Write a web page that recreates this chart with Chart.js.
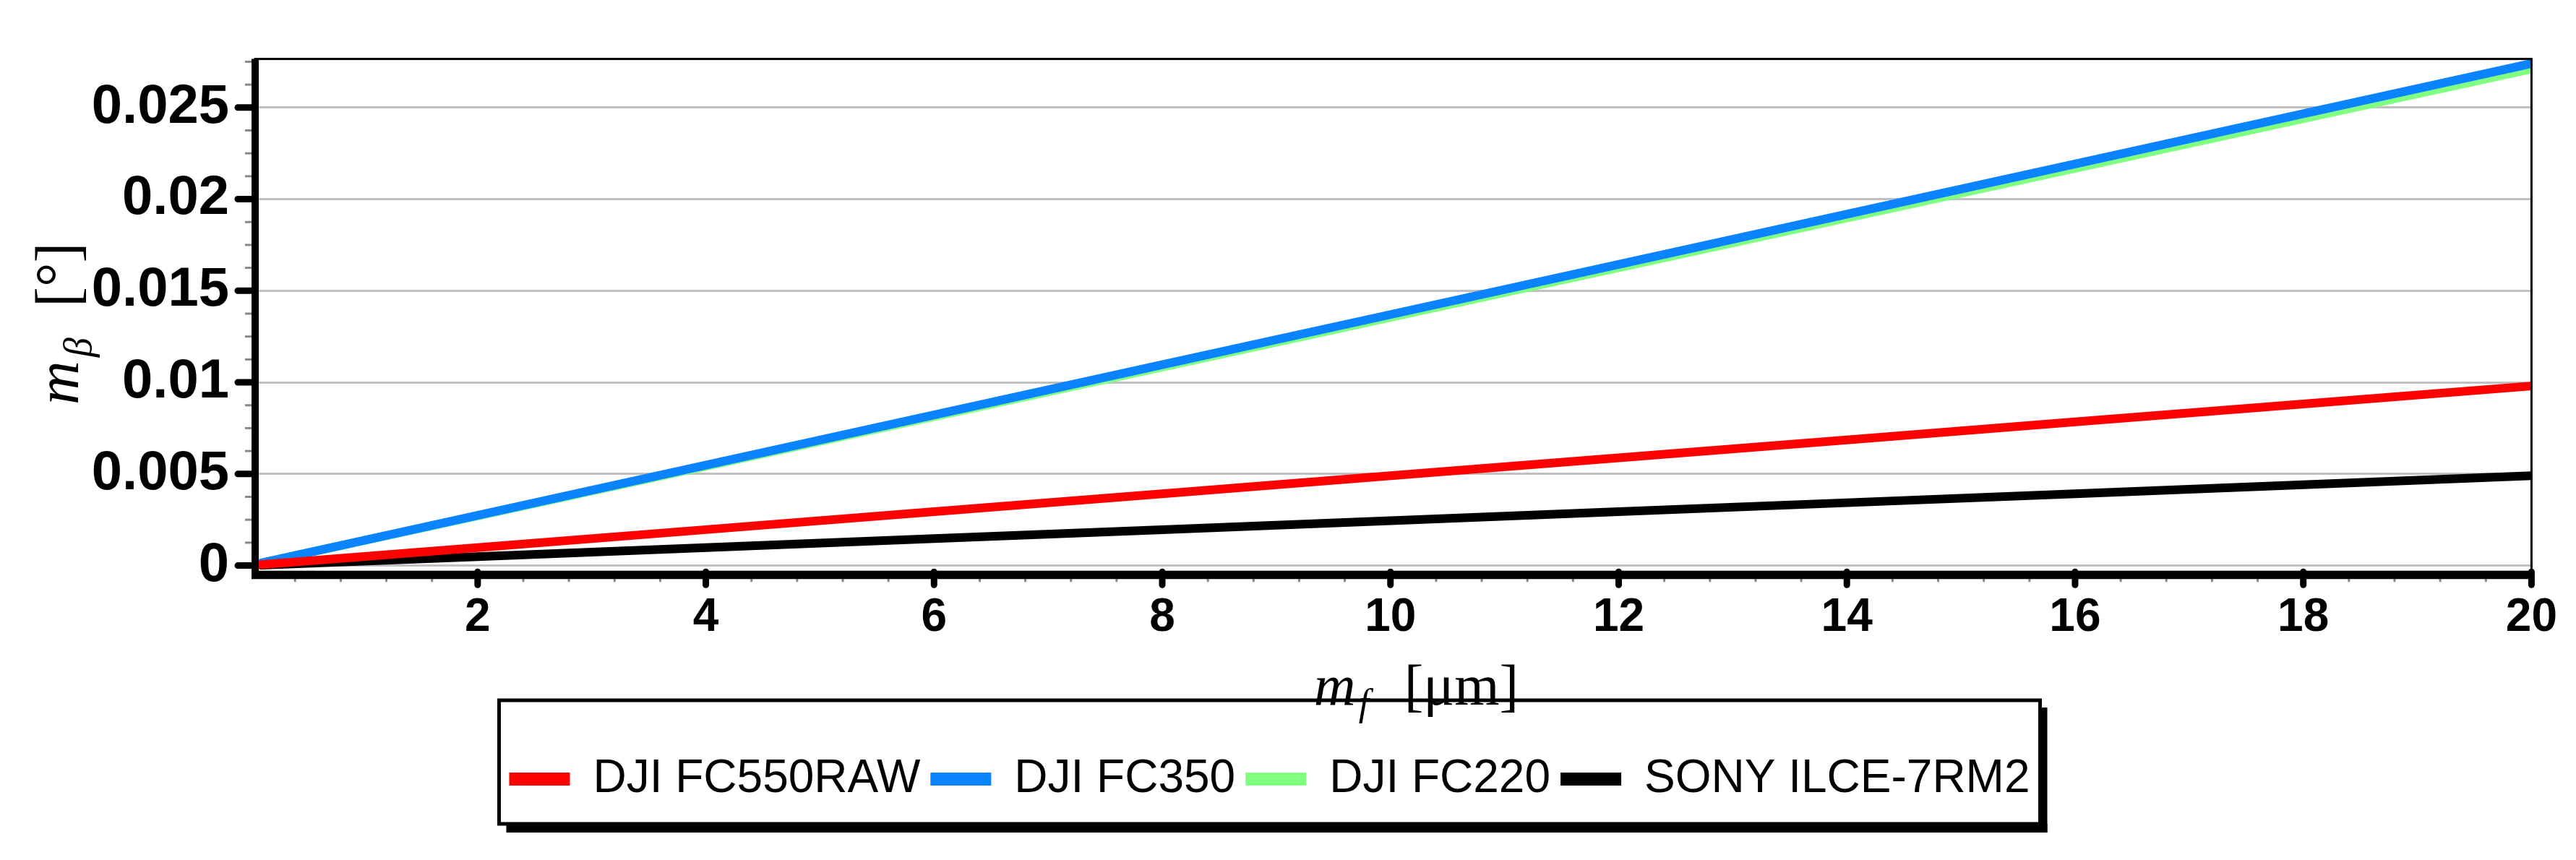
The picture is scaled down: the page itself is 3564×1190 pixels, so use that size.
<!DOCTYPE html>
<html>
<head>
<meta charset="utf-8">
<script src="https://cdn.jsdelivr.net/npm/chart.js@4"></script>
<style>
  html, body { margin: 0; padding: 0; background: #fff; }
  #wrap { width: 3564px; height: 1190px; }
</style>
</head>
<body>
<div id="wrap"><canvas id="c"></canvas></div>
<script>
// Data
const focalError = [0.1, 2, 4, 6, 8, 10, 12, 14, 16, 18, 20];
const fc550raw = [0.00005, 0.00098, 0.00196, 0.00294, 0.00392, 0.0049, 0.00588, 0.00686, 0.00784, 0.00882, 0.0098];
const fc350 = [0.000137, 0.00274, 0.00548, 0.00822, 0.01096, 0.0137, 0.01644, 0.01918, 0.02192, 0.02466, 0.0274];
const fc220 = [0.000136, 0.00271, 0.00542, 0.00813, 0.01084, 0.01355, 0.01626, 0.01897, 0.02168, 0.02439, 0.0271];
const sony = [0.000025, 0.00049, 0.00098, 0.00147, 0.00196, 0.00245, 0.00294, 0.00343, 0.00392, 0.00441, 0.0049];
const xTicks = [2, 4, 6, 8, 10, 12, 14, 16, 18, 20];
const yTicks = [0, 0.005, 0.01, 0.015, 0.02, 0.025];

const pts = arr => arr.map((v, i) => ({ x: focalError[i], y: v }));

function series(label, data, color) {
    return { label, data: pts(data), borderColor: color, backgroundColor: color,
        borderWidth: 12, pointRadius: 0, tension: 0, borderCapStyle: 'round' };
}

// frame, minor ticks, axis titles and legend box
const decor = {
    id: 'decor',
    afterDraw(chart) {
        const { ctx, chartArea: a, scales: { x, y } } = chart;
        ctx.save();
        // minor ticks
        ctx.strokeStyle = '#888'; ctx.lineWidth = 3;
        for (let v = 0.00125; v < 0.0276; v += 0.00125) {
            if (Math.abs(v / 0.005 - Math.round(v / 0.005)) < 1e-6) continue;
            const py = y.getPixelForValue(v);
            ctx.beginPath(); ctx.moveTo(a.left - 14, py); ctx.lineTo(a.left, py); ctx.stroke();
        }
        for (let v = 0.4; v < 20; v += 0.4) {
            if (Math.abs(v / 2 - Math.round(v / 2)) < 1e-6) continue;
            const px = x.getPixelForValue(v);
            ctx.beginPath(); ctx.moveTo(px, a.bottom + 4); ctx.lineTo(px, a.bottom + 14); ctx.stroke();
        }
        // major ticks
        ctx.strokeStyle = '#000'; ctx.lineWidth = 9; ctx.lineCap = 'round';
        yTicks.forEach(v => {
            const py = y.getPixelForValue(v);
            ctx.beginPath(); ctx.moveTo(a.left - 24, py); ctx.lineTo(a.left, py); ctx.stroke();
        });
        xTicks.forEach(v => {
            const px = x.getPixelForValue(v);
            ctx.beginPath(); ctx.moveTo(px, a.bottom); ctx.lineTo(px, a.bottom + 18); ctx.stroke();
        });
        ctx.lineCap = 'butt';
        // frame
        ctx.lineWidth = 3;
        ctx.strokeRect(a.left, a.top, a.right - a.left, a.bottom - a.top);
        ctx.lineWidth = 10;
        ctx.beginPath();
        ctx.moveTo(a.left, a.top); ctx.lineTo(a.left, a.bottom + 5); ctx.lineTo(a.right, a.bottom + 5);
        ctx.stroke();
        // x title
        ctx.fillStyle = '#000';
        ctx.textBaseline = 'alphabetic';
        const cx = (a.left + a.right) / 2 - 110;
        ctx.font = 'italic 80px "Liberation Serif"';
        ctx.fillText('m', cx, 975);
        ctx.font = 'italic 52px "Liberation Serif"';
        ctx.fillText('f', cx + 62, 990);
        ctx.font = '80px "Liberation Serif"';
        ctx.fillText('[μm]', cx + 125, 975);
        // y title
        ctx.translate(108, 560);
        ctx.rotate(-Math.PI / 2);
        ctx.font = 'italic 84px "Liberation Serif"';
        ctx.fillText('m', 0, 0);
        ctx.font = 'italic 54px "Liberation Serif"';
        ctx.fillText('β', 66, 18);
        ctx.font = '84px "Liberation Serif"';
        ctx.fillText('[°]', 135, 0);
        ctx.restore();
        // legend box
        const lg = chart.legend;
        if (lg && lg.legendHitBoxes.length) {
            const hb = lg.legendHitBoxes;
            const l = hb[0].left - 14, r = hb[hb.length - 1].left + hb[hb.length - 1].width + 14;
            const t = 969, b = 1140;
            ctx.save();
            ctx.fillStyle = '#000';
            ctx.fillRect(l + 10, b, r - l, 12);
            ctx.fillRect(r, t + 10, 10, b - t + 2);
            ctx.lineWidth = 5; ctx.strokeStyle = '#000';
            ctx.strokeRect(l, t, r - l, b - t);
            ctx.restore();
        }
    }
};

new Chart(document.getElementById('c'), {
    type: 'line',
    data: {
        datasets: [
            series('DJI FC550RAW', fc550raw, '#ff0000'),
            series('DJI FC350', fc350, '#0a84ff'),
            series('DJI FC220', fc220, '#80ff80'),
            series('SONY ILCE-7RM2', sony, '#000000')
        ]
    },
    options: {
        animation: false,
        responsive: true,
        maintainAspectRatio: false,
        layout: { padding: { left: 10, right: 61, top: 4, bottom: 70 } },
        plugins: {
            tooltip: { enabled: false },
            legend: {
                position: 'bottom',
                labels: {
                    color: '#000', boxWidth: 84, boxHeight: 18, padding: 14,
                    font: { family: '"Liberation Sans Narrow", "Liberation Sans"', size: 64 },
                    generateLabels: chart => chart.data.datasets.map((d, i) => ({
                        text: d.label, fillStyle: d.borderColor, strokeStyle: d.borderColor,
                        lineWidth: 0, datasetIndex: i
                    }))
                }
            }
        },
        scales: {
            x: {
                type: 'linear', min: 0.05, max: 20,
                afterBuildTicks: s => { s.ticks = xTicks.map(v => ({ value: v })); },
                grid: { display: false, drawTicks: false },
                border: { display: false },
                ticks: { color: '#000', padding: 26, maxRotation: 0, font: { family: '"Liberation Sans"', weight: 'bold', size: 64 } },
                title: { display: true, text: ' ', font: { size: 60 }, padding: { top: 10, bottom: 30 } }
            },
            y: {
                type: 'linear', min: -0.00034, max: 0.02765,
                afterBuildTicks: s => { s.ticks = yTicks.map(v => ({ value: v })); },
                afterFit: s => { s.width = 343; },
                grid: { color: '#c0c0c0', lineWidth: 3, drawTicks: false },
                border: { display: false },
                ticks: { color: '#000', padding: 36, font: { family: '"Liberation Sans"', weight: 'bold', size: 76 },
                    callback: v => String(v) }
            }
        }
    },
    plugins: [decor]
});
</script>
</body>
</html>
